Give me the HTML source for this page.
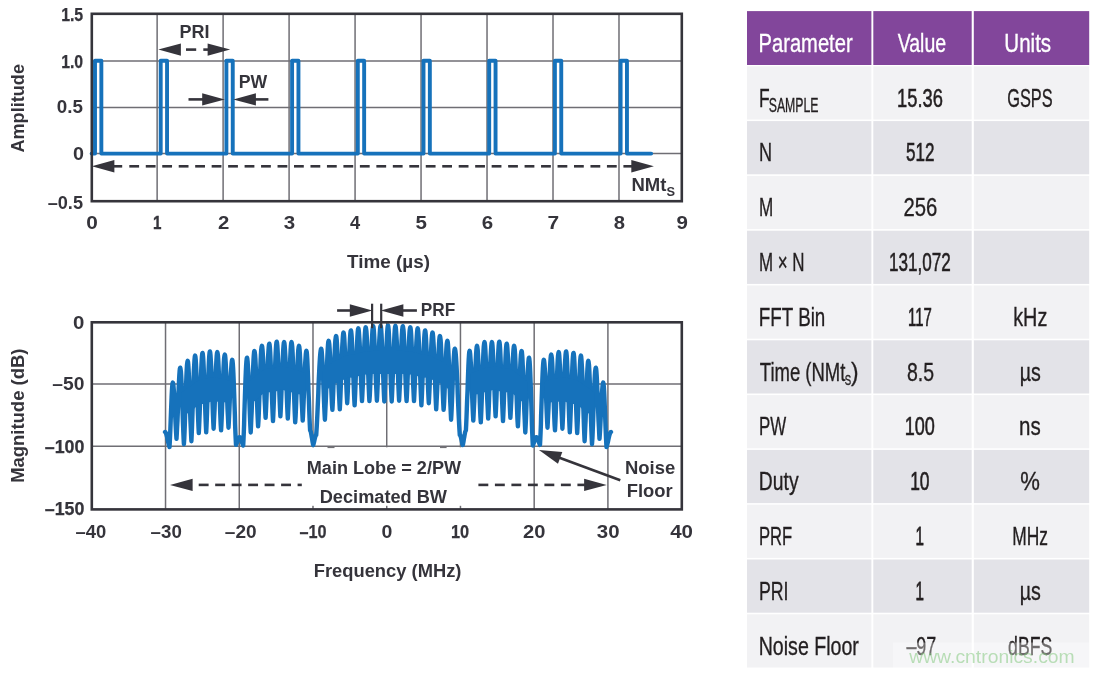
<!DOCTYPE html>
<html lang="en">
<head>
<meta charset="utf-8">
<title>Pulse train spectrum</title>
<style>
html,body{margin:0;padding:0;background:#fff;}
body{width:1093px;height:673px;overflow:hidden;}
svg{display:block;}
text{font-family:"Liberation Sans",sans-serif;}
</style>
</head>
<body>
<svg width="1093" height="673" viewBox="0 0 1093 673">
<rect x="0" y="0" width="1093" height="673" fill="#ffffff"/>
<g id="top-chart">
<line x1="157.13" y1="13.80" x2="157.13" y2="201.20" stroke="#6f6e74" stroke-width="1.5" />
<line x1="223.11" y1="13.80" x2="223.11" y2="201.20" stroke="#6f6e74" stroke-width="1.5" />
<line x1="289.09" y1="13.80" x2="289.09" y2="201.20" stroke="#6f6e74" stroke-width="1.5" />
<line x1="355.07" y1="13.80" x2="355.07" y2="201.20" stroke="#6f6e74" stroke-width="1.5" />
<line x1="421.05" y1="13.80" x2="421.05" y2="201.20" stroke="#6f6e74" stroke-width="1.5" />
<line x1="487.03" y1="13.80" x2="487.03" y2="201.20" stroke="#6f6e74" stroke-width="1.5" />
<line x1="553.01" y1="13.80" x2="553.01" y2="201.20" stroke="#6f6e74" stroke-width="1.5" />
<line x1="618.99" y1="13.80" x2="618.99" y2="201.20" stroke="#6f6e74" stroke-width="1.5" />
<line x1="91.80" y1="60.90" x2="681.80" y2="60.90" stroke="#6f6e74" stroke-width="1.5" />
<line x1="91.80" y1="107.60" x2="681.80" y2="107.60" stroke="#6f6e74" stroke-width="1.5" />
<line x1="91.80" y1="153.60" x2="681.80" y2="153.60" stroke="#6f6e74" stroke-width="1.5" />
<path d="M91.60 153.60 L95.00 153.60 L95.00 60.80 L101.35 60.80 L101.35 153.60 L160.70 153.60 L160.70 60.80 L167.05 60.80 L167.05 153.60 L226.40 153.60 L226.40 60.80 L232.75 60.80 L232.75 153.60 L292.10 153.60 L292.10 60.80 L298.45 60.80 L298.45 153.60 L357.80 153.60 L357.80 60.80 L364.15 60.80 L364.15 153.60 L423.50 153.60 L423.50 60.80 L429.85 60.80 L429.85 153.60 L489.20 153.60 L489.20 60.80 L495.55 60.80 L495.55 153.60 L554.90 153.60 L554.90 60.80 L561.25 60.80 L561.25 153.60 L620.60 153.60 L620.60 60.80 L626.95 60.80 L626.95 153.60 L651.20 153.60" fill="none" stroke="#1672bb" stroke-width="3.9" stroke-linejoin="round" stroke-linecap="round"/>
<rect x="91.80" y="13.80" width="590.00" height="187.40" fill="none" stroke="#35343b" stroke-width="2.6"/>
<polygon points="158.30,49.60 180.90,43.40 180.90,55.80" fill="#35343b"/>
<polygon points="230.20,49.60 207.60,55.80 207.60,43.40" fill="#35343b"/>
<line x1="186.00" y1="49.60" x2="196.20" y2="49.60" stroke="#35343b" stroke-width="2.6" />
<line x1="203.30" y1="49.60" x2="209.00" y2="49.60" stroke="#35343b" stroke-width="2.6" />
<line x1="188.50" y1="99.40" x2="203.00" y2="99.40" stroke="#35343b" stroke-width="2.6" />
<polygon points="224.80,99.40 202.20,105.60 202.20,93.20" fill="#35343b"/>
<polygon points="233.30,99.40 255.90,93.20 255.90,105.60" fill="#35343b"/>
<line x1="254.00" y1="99.40" x2="268.40" y2="99.40" stroke="#35343b" stroke-width="2.6" />
<polygon points="91.80,166.30 114.40,160.10 114.40,172.50" fill="#35343b"/>
<polygon points="653.90,166.30 631.30,172.50 631.30,160.10" fill="#35343b"/>
<line x1="113.00" y1="166.30" x2="122.20" y2="166.30" stroke="#35343b" stroke-width="2.6" />
<line x1="129.30" y1="166.30" x2="139.10" y2="166.30" stroke="#35343b" stroke-width="2.6" />
<line x1="145.77" y1="166.30" x2="155.57" y2="166.30" stroke="#35343b" stroke-width="2.6" />
<line x1="162.24" y1="166.30" x2="172.04" y2="166.30" stroke="#35343b" stroke-width="2.6" />
<line x1="178.71" y1="166.30" x2="188.51" y2="166.30" stroke="#35343b" stroke-width="2.6" />
<line x1="195.18" y1="166.30" x2="204.98" y2="166.30" stroke="#35343b" stroke-width="2.6" />
<line x1="211.65" y1="166.30" x2="221.45" y2="166.30" stroke="#35343b" stroke-width="2.6" />
<line x1="228.12" y1="166.30" x2="237.92" y2="166.30" stroke="#35343b" stroke-width="2.6" />
<line x1="244.59" y1="166.30" x2="254.39" y2="166.30" stroke="#35343b" stroke-width="2.6" />
<line x1="261.06" y1="166.30" x2="270.86" y2="166.30" stroke="#35343b" stroke-width="2.6" />
<line x1="277.53" y1="166.30" x2="287.33" y2="166.30" stroke="#35343b" stroke-width="2.6" />
<line x1="294.00" y1="166.30" x2="303.80" y2="166.30" stroke="#35343b" stroke-width="2.6" />
<line x1="310.47" y1="166.30" x2="320.27" y2="166.30" stroke="#35343b" stroke-width="2.6" />
<line x1="326.94" y1="166.30" x2="336.74" y2="166.30" stroke="#35343b" stroke-width="2.6" />
<line x1="343.41" y1="166.30" x2="353.21" y2="166.30" stroke="#35343b" stroke-width="2.6" />
<line x1="359.88" y1="166.30" x2="369.68" y2="166.30" stroke="#35343b" stroke-width="2.6" />
<line x1="376.35" y1="166.30" x2="386.15" y2="166.30" stroke="#35343b" stroke-width="2.6" />
<line x1="392.82" y1="166.30" x2="402.62" y2="166.30" stroke="#35343b" stroke-width="2.6" />
<line x1="409.29" y1="166.30" x2="419.09" y2="166.30" stroke="#35343b" stroke-width="2.6" />
<line x1="425.76" y1="166.30" x2="435.56" y2="166.30" stroke="#35343b" stroke-width="2.6" />
<line x1="442.23" y1="166.30" x2="452.03" y2="166.30" stroke="#35343b" stroke-width="2.6" />
<line x1="458.70" y1="166.30" x2="468.50" y2="166.30" stroke="#35343b" stroke-width="2.6" />
<line x1="475.17" y1="166.30" x2="484.97" y2="166.30" stroke="#35343b" stroke-width="2.6" />
<line x1="491.64" y1="166.30" x2="501.44" y2="166.30" stroke="#35343b" stroke-width="2.6" />
<line x1="508.11" y1="166.30" x2="517.91" y2="166.30" stroke="#35343b" stroke-width="2.6" />
<line x1="524.58" y1="166.30" x2="534.38" y2="166.30" stroke="#35343b" stroke-width="2.6" />
<line x1="541.05" y1="166.30" x2="550.85" y2="166.30" stroke="#35343b" stroke-width="2.6" />
<line x1="557.52" y1="166.30" x2="567.32" y2="166.30" stroke="#35343b" stroke-width="2.6" />
<line x1="573.99" y1="166.30" x2="583.79" y2="166.30" stroke="#35343b" stroke-width="2.6" />
<line x1="590.46" y1="166.30" x2="600.26" y2="166.30" stroke="#35343b" stroke-width="2.6" />
<line x1="606.93" y1="166.30" x2="616.73" y2="166.30" stroke="#35343b" stroke-width="2.6" />
<line x1="623.40" y1="166.30" x2="633.00" y2="166.30" stroke="#35343b" stroke-width="2.6" />
</g>
<g id="bottom-chart">
<line x1="165.53" y1="322.30" x2="165.53" y2="509.40" stroke="#6f6e74" stroke-width="1.5" />
<line x1="239.26" y1="322.30" x2="239.26" y2="509.40" stroke="#6f6e74" stroke-width="1.5" />
<line x1="312.99" y1="322.30" x2="312.99" y2="509.40" stroke="#6f6e74" stroke-width="1.5" />
<line x1="386.72" y1="322.30" x2="386.72" y2="509.40" stroke="#6f6e74" stroke-width="1.5" />
<line x1="460.45" y1="322.30" x2="460.45" y2="509.40" stroke="#6f6e74" stroke-width="1.5" />
<line x1="534.18" y1="322.30" x2="534.18" y2="509.40" stroke="#6f6e74" stroke-width="1.5" />
<line x1="607.91" y1="322.30" x2="607.91" y2="509.40" stroke="#6f6e74" stroke-width="1.5" />
<line x1="91.80" y1="384.00" x2="681.80" y2="384.00" stroke="#6f6e74" stroke-width="1.5" />
<line x1="91.80" y1="446.30" x2="681.80" y2="446.30" stroke="#6f6e74" stroke-width="1.5" />
<rect x="303" y="447.3" width="167" height="58.5" fill="#ffffff"/>
<rect x="327.5" y="447.0" width="7" height="1.1" fill="#35343b" opacity="0.7"/>
<rect x="440.0" y="447.0" width="6.6" height="1.1" fill="#35343b" opacity="0.7"/>
<path d="M165.0 432.0 L165.3 432.1 L165.6 432.5 L165.9 433.1 L166.2 433.9 L166.5 434.9 L166.8 436.0 L167.1 437.3 L167.4 438.6 L167.7 440.0 L168.0 441.4 L168.3 442.7 L168.6 444.0 L168.9 445.1 L169.2 446.1 L169.5 447.0 L169.8 441.8 L170.1 435.4 L170.4 428.1 L170.7 420.2 L171.0 412.1 L171.3 404.3 L171.6 397.1 L171.9 391.1 L172.2 386.5 L172.5 383.6 L172.8 382.6 L173.1 383.3 L173.4 385.4 L173.7 388.9 L174.1 393.4 L174.4 398.8 L174.7 404.9 L175.0 411.3 L175.3 417.7 L175.6 423.9 L175.9 429.6 L176.2 434.7 L176.5 438.8 L176.8 433.6 L177.1 427.2 L177.5 420.0 L177.8 412.1 L178.1 404.0 L178.4 395.9 L178.7 388.2 L179.0 381.4 L179.3 375.6 L179.6 371.3 L179.9 368.6 L180.2 367.7 L180.5 368.7 L180.9 371.6 L181.2 376.2 L181.5 382.4 L181.8 389.8 L182.1 398.0 L182.4 406.7 L182.7 415.5 L183.0 424.0 L183.3 431.7 L183.6 438.6 L183.9 444.2 L184.3 438.0 L184.6 430.6 L184.9 422.1 L185.2 412.9 L185.5 403.4 L185.8 393.9 L186.1 384.9 L186.4 376.8 L186.7 370.1 L187.0 365.0 L187.4 361.9 L187.7 360.8 L188.0 361.8 L188.3 364.9 L188.6 369.7 L188.9 376.2 L189.2 384.0 L189.5 392.7 L189.8 401.8 L190.1 411.1 L190.4 419.9 L190.8 428.1 L191.1 435.3 L191.4 441.2 L191.7 434.9 L192.0 427.3 L192.3 418.6 L192.6 409.1 L192.9 399.3 L193.2 389.5 L193.5 380.3 L193.8 372.0 L194.2 365.1 L194.5 359.9 L194.8 356.7 L195.1 355.6 L195.4 356.6 L195.7 359.5 L196.0 364.2 L196.3 370.5 L196.6 378.0 L196.9 386.3 L197.2 395.2 L197.6 404.0 L197.9 412.6 L198.2 420.5 L198.5 427.4 L198.8 433.1 L199.1 427.2 L199.4 420.0 L199.7 411.9 L200.0 403.0 L200.3 393.8 L200.6 384.7 L201.0 376.0 L201.3 368.3 L201.6 361.8 L201.9 357.0 L202.2 353.9 L202.5 352.9 L202.8 353.9 L203.1 356.9 L203.4 361.7 L203.7 368.1 L204.0 375.8 L204.4 384.4 L204.7 393.4 L205.0 402.5 L205.3 411.3 L205.6 419.4 L205.9 426.4 L206.2 432.3 L206.5 426.3 L206.8 419.1 L207.1 410.9 L207.4 402.0 L207.8 392.7 L208.1 383.5 L208.4 374.7 L208.7 366.9 L209.0 360.4 L209.3 355.5 L209.6 352.4 L209.9 351.4 L210.2 352.4 L210.5 355.3 L210.8 360.0 L211.2 366.2 L211.5 373.7 L211.8 382.0 L212.1 390.8 L212.4 399.7 L212.7 408.2 L213.0 416.1 L213.3 423.0 L213.6 428.7 L213.9 423.0 L214.2 416.2 L214.6 408.4 L214.9 400.0 L215.2 391.2 L215.5 382.5 L215.8 374.2 L216.1 366.8 L216.4 360.6 L216.7 356.0 L217.0 353.1 L217.3 352.1 L217.6 353.1 L218.0 356.1 L218.3 360.8 L218.6 367.1 L218.9 374.7 L219.2 383.1 L219.5 392.1 L219.8 401.0 L220.1 409.7 L220.4 417.6 L220.7 424.6 L221.1 430.4 L221.4 424.8 L221.7 418.1 L222.0 410.3 L222.3 402.0 L222.6 393.3 L222.9 384.7 L223.2 376.5 L223.5 369.2 L223.8 363.0 L224.1 358.4 L224.5 355.6 L224.8 354.6 L225.1 355.5 L225.4 358.3 L225.7 362.7 L226.0 368.6 L226.3 375.7 L226.6 383.6 L226.9 391.9 L227.2 400.3 L227.5 408.4 L227.9 415.8 L228.2 422.3 L228.5 427.7 L228.8 422.7 L229.1 416.6 L229.4 409.7 L229.7 402.2 L230.0 394.5 L230.3 386.7 L230.6 379.4 L230.9 372.8 L231.3 367.4 L231.6 363.2 L231.9 360.7 L232.2 359.8 L232.5 360.7 L232.8 363.5 L233.1 367.9 L233.4 373.9 L233.7 381.1 L234.0 389.2 L234.3 398.0 L234.6 407.0 L234.9 415.9 L235.1 424.5 L235.4 432.3 L235.7 439.2 L236.0 444.9 L236.3 444.3 L236.6 443.6 L236.9 442.9 L237.2 442.0 L237.5 441.1 L237.8 440.3 L238.1 439.4 L238.4 438.7 L238.7 438.1 L239.0 437.6 L239.3 437.3 L239.6 437.2 L239.9 437.3 L240.2 437.6 L240.5 438.1 L240.8 438.8 L241.1 439.6 L241.4 440.5 L241.7 441.4 L242.0 442.4 L242.3 443.3 L242.6 444.1 L242.9 444.9 L243.2 445.5 L243.5 439.6 L243.8 432.5 L244.1 424.4 L244.3 415.6 L244.6 406.4 L244.9 397.1 L245.2 388.0 L245.5 379.6 L245.8 372.2 L246.1 366.1 L246.4 361.5 L246.7 358.7 L247.0 357.7 L247.3 358.7 L247.6 361.5 L247.9 366.0 L248.3 372.1 L248.6 379.3 L248.9 387.4 L249.2 395.9 L249.5 404.4 L249.8 412.7 L250.1 420.3 L250.4 427.0 L250.7 432.5 L251.0 426.5 L251.3 419.2 L251.7 410.9 L252.0 401.9 L252.3 392.6 L252.6 383.3 L252.9 374.5 L253.2 366.6 L253.5 360.1 L253.8 355.1 L254.1 352.0 L254.4 351.0 L254.7 352.0 L255.1 354.8 L255.4 359.4 L255.7 365.5 L256.0 372.7 L256.3 380.9 L256.6 389.4 L256.9 398.1 L257.2 406.4 L257.5 414.0 L257.8 420.7 L258.1 426.3 L258.5 420.4 L258.8 413.2 L259.1 405.0 L259.4 396.1 L259.7 386.9 L260.0 377.7 L260.3 369.0 L260.6 361.3 L260.9 354.8 L261.2 349.9 L261.6 346.8 L261.9 345.8 L262.2 346.7 L262.5 349.4 L262.8 353.8 L263.1 359.6 L263.4 366.6 L263.7 374.4 L264.0 382.6 L264.3 390.9 L264.6 398.8 L265.0 406.2 L265.3 412.6 L265.6 417.9 L265.9 412.4 L266.2 405.8 L266.5 398.3 L266.8 390.1 L267.1 381.6 L267.4 373.1 L267.7 365.1 L268.0 357.9 L268.4 352.0 L268.7 347.4 L269.0 344.6 L269.3 343.7 L269.6 344.7 L269.9 347.6 L270.2 352.3 L270.5 358.6 L270.8 366.0 L271.1 374.4 L271.4 383.2 L271.8 392.1 L272.1 400.6 L272.4 408.5 L272.7 415.4 L273.0 421.1 L273.3 415.2 L273.6 408.2 L273.9 400.1 L274.2 391.3 L274.5 382.2 L274.8 373.2 L275.2 364.6 L275.5 356.9 L275.8 350.5 L276.1 345.7 L276.4 342.7 L276.7 341.7 L277.0 342.7 L277.3 345.5 L277.6 350.0 L277.9 356.0 L278.2 363.2 L278.6 371.3 L278.9 379.8 L279.2 388.3 L279.5 396.6 L279.8 404.1 L280.1 410.8 L280.4 416.3 L280.7 410.8 L281.0 404.2 L281.3 396.7 L281.6 388.5 L282.0 380.0 L282.3 371.5 L282.6 363.5 L282.9 356.3 L283.2 350.4 L283.5 345.8 L283.8 343.0 L284.1 342.1 L284.4 343.1 L284.7 346.0 L285.0 350.6 L285.4 356.8 L285.7 364.2 L286.0 372.4 L286.3 381.1 L286.6 389.9 L286.9 398.4 L287.2 406.1 L287.5 413.0 L287.8 418.6 L288.1 413.0 L288.4 406.1 L288.8 398.4 L289.1 389.9 L289.4 381.1 L289.7 372.4 L290.0 364.2 L290.3 356.8 L290.6 350.6 L290.9 346.0 L291.2 343.1 L291.5 342.1 L291.8 343.1 L292.2 346.2 L292.5 351.0 L292.8 357.5 L293.1 365.3 L293.4 373.9 L293.7 383.1 L294.0 392.3 L294.3 401.2 L294.6 409.3 L294.9 416.5 L295.2 422.4 L295.6 416.7 L295.9 409.9 L296.2 402.1 L296.5 393.7 L296.8 384.9 L297.1 376.2 L297.4 367.9 L297.7 360.5 L298.0 354.3 L298.3 349.7 L298.7 346.8 L299.0 345.8 L299.3 346.8 L299.6 349.6 L299.9 354.1 L300.2 360.2 L300.5 367.4 L300.8 375.5 L301.1 384.0 L301.4 392.5 L301.7 400.8 L302.1 408.4 L302.4 415.1 L302.7 420.6 L303.0 415.5 L303.3 409.2 L303.6 402.1 L303.9 394.4 L304.2 386.4 L304.5 378.5 L304.8 370.9 L305.1 364.2 L305.5 358.6 L305.8 354.3 L306.1 351.7 L306.4 350.8 L306.7 351.8 L307.0 354.8 L307.3 359.7 L307.6 366.1 L307.9 373.8 L308.2 382.4 L308.5 391.5 L308.9 400.6 L309.2 409.4 L309.5 417.5 L309.8 424.6 L310.1 430.5 L310.4 430.8 L310.7 431.5 L311.0 432.8 L311.3 434.4 L311.6 436.2 L312.0 438.2 L312.3 440.2 L312.6 442.1 L312.9 443.7 L313.2 445.0 L313.5 444.1 L313.8 443.0 L314.1 441.7 L314.4 440.3 L314.7 439.0 L315.0 437.7 L315.3 436.6 L315.6 435.7 L315.9 435.2 L316.2 435.0 L316.5 430.7 L316.8 425.6 L317.1 420.0 L317.4 413.8 L317.7 407.2 L318.0 400.3 L318.3 393.3 L318.5 386.3 L318.8 379.5 L319.1 373.1 L319.4 367.1 L319.7 361.8 L320.0 357.2 L320.3 353.6 L320.6 350.9 L320.9 349.3 L321.2 348.7 L321.5 349.6 L321.8 352.3 L322.1 356.6 L322.5 362.3 L322.8 369.2 L323.1 376.8 L323.4 384.9 L323.7 393.1 L324.0 400.9 L324.3 408.1 L324.6 414.5 L324.9 419.7 L325.2 413.9 L325.5 406.8 L325.9 398.8 L326.2 390.1 L326.5 381.1 L326.8 372.1 L327.1 363.6 L327.4 355.9 L327.7 349.6 L328.0 344.8 L328.3 341.8 L328.6 340.8 L328.9 341.7 L329.3 344.3 L329.6 348.5 L329.9 354.1 L330.2 360.7 L330.5 368.2 L330.8 376.1 L331.1 384.0 L331.4 391.6 L331.7 398.6 L332.0 404.8 L332.4 409.9 L332.7 404.4 L333.0 397.9 L333.3 390.3 L333.6 382.2 L333.9 373.7 L334.2 365.3 L334.5 357.3 L334.8 350.2 L335.1 344.2 L335.4 339.7 L335.8 336.9 L336.1 336.0 L336.4 336.9 L336.7 339.7 L337.0 344.2 L337.3 350.1 L337.6 357.2 L337.9 365.1 L338.2 373.5 L338.5 381.9 L338.8 390.0 L339.2 397.4 L339.5 404.0 L339.8 409.4 L340.1 403.7 L340.4 396.9 L340.7 389.1 L341.0 380.6 L341.3 371.7 L341.6 363.0 L341.9 354.7 L342.2 347.3 L342.6 341.1 L342.9 336.4 L343.2 333.5 L343.5 332.5 L343.8 333.4 L344.1 336.1 L344.4 340.4 L344.7 346.1 L345.0 352.9 L345.3 360.5 L345.6 368.6 L346.0 376.7 L346.3 384.5 L346.6 391.7 L346.9 398.0 L347.2 403.2 L347.5 397.8 L347.8 391.3 L348.1 383.9 L348.4 375.9 L348.7 367.6 L349.0 359.3 L349.4 351.4 L349.7 344.4 L350.0 338.5 L350.3 334.1 L350.6 331.3 L350.9 330.4 L351.2 331.4 L351.5 334.2 L351.8 338.7 L352.1 344.8 L352.4 352.0 L352.8 360.1 L353.1 368.6 L353.4 377.2 L353.7 385.5 L354.0 393.1 L354.3 399.8 L354.6 405.3 L354.9 399.6 L355.2 392.8 L355.5 384.9 L355.8 376.4 L356.2 367.6 L356.5 358.8 L356.8 350.5 L357.1 343.1 L357.4 336.9 L357.7 332.2 L358.0 329.3 L358.3 328.3 L358.6 329.2 L358.9 332.0 L359.2 336.4 L359.6 342.3 L359.9 349.3 L360.2 357.2 L360.5 365.5 L360.8 373.8 L361.1 381.8 L361.4 389.2 L361.7 395.7 L362.0 401.1 L362.3 395.7 L362.6 389.1 L363.0 381.6 L363.3 373.4 L363.6 365.0 L363.9 356.6 L364.2 348.6 L364.5 341.5 L364.8 335.5 L365.1 331.0 L365.4 328.2 L365.7 327.3 L366.0 328.2 L366.4 331.0 L366.7 335.5 L367.0 341.5 L367.3 348.6 L367.6 356.6 L367.9 365.0 L368.2 373.4 L368.5 381.6 L368.8 389.1 L369.1 395.7 L369.4 401.1 L369.8 395.6 L370.1 388.9 L370.4 381.3 L370.7 373.0 L371.0 364.4 L371.3 355.9 L371.6 347.8 L371.9 340.6 L372.2 334.5 L372.5 330.0 L372.9 327.2 L373.2 326.2 L373.5 327.2 L373.8 330.0 L374.1 334.5 L374.4 340.5 L374.7 347.7 L375.0 355.7 L375.3 364.2 L375.6 372.8 L375.9 381.0 L376.3 388.6 L376.6 395.2 L376.9 400.7 L377.2 395.2 L377.5 388.5 L377.8 380.9 L378.1 372.6 L378.4 364.0 L378.7 355.5 L379.0 347.4 L379.3 340.2 L379.7 334.1 L380.0 329.6 L380.3 326.8 L380.6 325.8 L380.9 326.8 L381.2 329.6 L381.5 334.2 L381.8 340.3 L382.1 347.6 L382.4 355.8 L382.7 364.4 L383.1 373.1 L383.4 381.5 L383.7 389.2 L384.0 395.9 L384.3 401.5 L384.6 395.9 L384.9 389.1 L385.2 381.4 L385.5 373.0 L385.8 364.2 L386.1 355.6 L386.5 347.4 L386.8 340.0 L387.1 333.9 L387.4 329.2 L387.7 326.4 L388.0 325.4 L388.3 326.4 L388.6 329.2 L388.9 333.9 L389.2 340.0 L389.5 347.4 L389.9 355.6 L390.2 364.2 L390.5 373.0 L390.8 381.4 L391.1 389.1 L391.4 395.9 L391.7 401.5 L392.0 395.9 L392.3 389.2 L392.6 381.5 L392.9 373.1 L393.3 364.4 L393.6 355.8 L393.9 347.6 L394.2 340.3 L394.5 334.2 L394.8 329.6 L395.1 326.8 L395.4 325.8 L395.7 326.8 L396.0 329.6 L396.3 334.1 L396.7 340.2 L397.0 347.4 L397.3 355.5 L397.6 364.0 L397.9 372.6 L398.2 380.9 L398.5 388.5 L398.8 395.2 L399.1 400.7 L399.4 395.2 L399.7 388.6 L400.1 381.0 L400.4 372.8 L400.7 364.2 L401.0 355.7 L401.3 347.7 L401.6 340.5 L401.9 334.5 L402.2 330.0 L402.5 327.2 L402.8 326.2 L403.1 327.2 L403.5 330.0 L403.8 334.5 L404.1 340.6 L404.4 347.8 L404.7 355.9 L405.0 364.4 L405.3 373.0 L405.6 381.3 L405.9 388.9 L406.2 395.6 L406.6 401.1 L406.9 395.7 L407.2 389.1 L407.5 381.6 L407.8 373.4 L408.1 365.0 L408.4 356.6 L408.7 348.6 L409.0 341.5 L409.3 335.5 L409.6 331.0 L410.0 328.2 L410.3 327.3 L410.6 328.2 L410.9 331.0 L411.2 335.5 L411.5 341.5 L411.8 348.6 L412.1 356.6 L412.4 365.0 L412.7 373.4 L413.0 381.6 L413.4 389.1 L413.7 395.7 L414.0 401.1 L414.3 395.7 L414.6 389.2 L414.9 381.8 L415.2 373.8 L415.5 365.5 L415.8 357.2 L416.1 349.3 L416.4 342.3 L416.8 336.4 L417.1 332.0 L417.4 329.2 L417.7 328.3 L418.0 329.3 L418.3 332.2 L418.6 336.9 L418.9 343.1 L419.2 350.5 L419.5 358.8 L419.8 367.6 L420.2 376.4 L420.5 384.9 L420.8 392.8 L421.1 399.6 L421.4 405.3 L421.7 399.8 L422.0 393.1 L422.3 385.5 L422.6 377.2 L422.9 368.6 L423.2 360.1 L423.6 352.0 L423.9 344.8 L424.2 338.7 L424.5 334.2 L424.8 331.4 L425.1 330.4 L425.4 331.3 L425.7 334.1 L426.0 338.5 L426.3 344.4 L426.6 351.4 L427.0 359.3 L427.3 367.6 L427.6 375.9 L427.9 383.9 L428.2 391.3 L428.5 397.8 L428.8 403.2 L429.1 398.0 L429.4 391.7 L429.7 384.5 L430.0 376.7 L430.4 368.6 L430.7 360.5 L431.0 352.9 L431.3 346.1 L431.6 340.4 L431.9 336.1 L432.2 333.4 L432.5 332.5 L432.8 333.5 L433.1 336.4 L433.4 341.1 L433.8 347.3 L434.1 354.7 L434.4 363.0 L434.7 371.7 L435.0 380.6 L435.3 389.1 L435.6 396.9 L435.9 403.7 L436.2 409.4 L436.5 404.0 L436.8 397.4 L437.2 390.0 L437.5 381.9 L437.8 373.5 L438.1 365.1 L438.4 357.2 L438.7 350.1 L439.0 344.2 L439.3 339.7 L439.6 336.9 L439.9 336.0 L440.2 336.9 L440.6 339.7 L440.9 344.2 L441.2 350.2 L441.5 357.3 L441.8 365.3 L442.1 373.7 L442.4 382.2 L442.7 390.3 L443.0 397.9 L443.3 404.4 L443.6 409.9 L444.0 404.8 L444.3 398.6 L444.6 391.6 L444.9 384.0 L445.2 376.1 L445.5 368.2 L445.8 360.7 L446.1 354.1 L446.4 348.5 L446.7 344.3 L447.1 341.7 L447.4 340.8 L447.7 341.8 L448.0 344.8 L448.3 349.6 L448.6 355.9 L448.9 363.6 L449.2 372.1 L449.5 381.1 L449.8 390.1 L450.1 398.8 L450.5 406.8 L450.8 413.9 L451.1 419.7 L451.4 414.5 L451.7 408.1 L452.0 400.9 L452.3 393.1 L452.6 384.9 L452.9 376.8 L453.2 369.2 L453.5 362.3 L453.9 356.6 L454.2 352.3 L454.5 349.6 L454.8 348.7 L455.1 349.3 L455.4 350.9 L455.7 353.6 L456.0 357.2 L456.3 361.8 L456.6 367.1 L456.9 373.1 L457.2 379.5 L457.5 386.3 L457.7 393.3 L458.0 400.3 L458.3 407.2 L458.6 413.8 L458.9 420.0 L459.2 425.6 L459.5 430.7 L459.8 435.0 L460.1 435.2 L460.4 435.7 L460.7 436.6 L461.0 437.7 L461.3 439.0 L461.6 440.3 L461.9 441.7 L462.2 443.0 L462.5 444.1 L462.8 445.0 L463.1 443.7 L463.4 442.1 L463.7 440.2 L464.0 438.2 L464.4 436.2 L464.7 434.4 L465.0 432.8 L465.3 431.5 L465.6 430.8 L465.9 430.5 L466.2 424.6 L466.5 417.5 L466.8 409.4 L467.1 400.6 L467.5 391.5 L467.8 382.4 L468.1 373.8 L468.4 366.1 L468.7 359.7 L469.0 354.8 L469.3 351.8 L469.6 350.8 L469.9 351.7 L470.2 354.3 L470.5 358.6 L470.9 364.2 L471.2 370.9 L471.5 378.5 L471.8 386.4 L472.1 394.4 L472.4 402.1 L472.7 409.2 L473.0 415.5 L473.3 420.6 L473.6 415.1 L473.9 408.4 L474.3 400.8 L474.6 392.6 L474.9 384.0 L475.2 375.5 L475.5 367.4 L475.8 360.2 L476.1 354.1 L476.4 349.6 L476.7 346.8 L477.0 345.8 L477.3 346.8 L477.7 349.7 L478.0 354.3 L478.3 360.5 L478.6 367.9 L478.9 376.2 L479.2 384.9 L479.5 393.7 L479.8 402.1 L480.1 409.9 L480.4 416.7 L480.8 422.4 L481.1 416.5 L481.4 409.3 L481.7 401.2 L482.0 392.3 L482.3 383.1 L482.6 373.9 L482.9 365.3 L483.2 357.5 L483.5 351.0 L483.8 346.2 L484.2 343.1 L484.5 342.1 L484.8 343.1 L485.1 346.0 L485.4 350.6 L485.7 356.8 L486.0 364.2 L486.3 372.4 L486.6 381.1 L486.9 389.9 L487.2 398.4 L487.6 406.1 L487.9 413.0 L488.2 418.6 L488.5 413.0 L488.8 406.1 L489.1 398.4 L489.4 389.9 L489.7 381.1 L490.0 372.4 L490.3 364.2 L490.6 356.8 L491.0 350.6 L491.3 346.0 L491.6 343.1 L491.9 342.1 L492.2 343.0 L492.5 345.8 L492.8 350.4 L493.1 356.3 L493.4 363.5 L493.7 371.5 L494.0 380.0 L494.4 388.5 L494.7 396.7 L495.0 404.2 L495.3 410.8 L495.6 416.3 L495.9 410.8 L496.2 404.1 L496.5 396.6 L496.8 388.3 L497.1 379.8 L497.4 371.3 L497.8 363.2 L498.1 356.0 L498.4 350.0 L498.7 345.5 L499.0 342.7 L499.3 341.7 L499.6 342.7 L499.9 345.7 L500.2 350.5 L500.5 356.9 L500.8 364.6 L501.2 373.2 L501.5 382.2 L501.8 391.3 L502.1 400.1 L502.4 408.2 L502.7 415.2 L503.0 421.1 L503.3 415.4 L503.6 408.5 L503.9 400.6 L504.2 392.1 L504.6 383.2 L504.9 374.4 L505.2 366.0 L505.5 358.6 L505.8 352.3 L506.1 347.6 L506.4 344.7 L506.7 343.7 L507.0 344.6 L507.3 347.4 L507.6 352.0 L508.0 357.9 L508.3 365.1 L508.6 373.1 L508.9 381.6 L509.2 390.1 L509.5 398.3 L509.8 405.8 L510.1 412.4 L510.4 417.9 L510.7 412.6 L511.0 406.2 L511.4 398.8 L511.7 390.9 L512.0 382.6 L512.3 374.4 L512.6 366.6 L512.9 359.6 L513.2 353.8 L513.5 349.4 L513.8 346.7 L514.1 345.8 L514.4 346.8 L514.8 349.9 L515.1 354.8 L515.4 361.3 L515.7 369.0 L516.0 377.7 L516.3 386.9 L516.6 396.1 L516.9 405.0 L517.2 413.2 L517.5 420.4 L517.9 426.3 L518.2 420.7 L518.5 414.0 L518.8 406.4 L519.1 398.1 L519.4 389.4 L519.7 380.9 L520.0 372.7 L520.3 365.5 L520.6 359.4 L520.9 354.8 L521.3 352.0 L521.6 351.0 L521.9 352.0 L522.2 355.1 L522.5 360.1 L522.8 366.6 L523.1 374.5 L523.4 383.3 L523.7 392.6 L524.0 401.9 L524.3 410.9 L524.7 419.2 L525.0 426.5 L525.3 432.5 L525.6 427.0 L525.9 420.3 L526.2 412.7 L526.5 404.5 L526.8 395.9 L527.1 387.4 L527.4 379.3 L527.7 372.1 L528.1 366.0 L528.4 361.5 L528.7 358.7 L529.0 357.7 L529.3 358.7 L529.6 361.5 L529.9 366.1 L530.2 372.2 L530.5 379.6 L530.8 388.0 L531.1 397.1 L531.4 406.4 L531.7 415.6 L531.9 424.4 L532.2 432.5 L532.5 439.6 L532.8 445.5 L533.1 444.9 L533.4 444.1 L533.7 443.3 L534.0 442.4 L534.3 441.4 L534.6 440.5 L534.9 439.6 L535.2 438.8 L535.5 438.1 L535.8 437.6 L536.1 437.3 L536.4 437.2 L536.7 437.3 L537.0 437.6 L537.3 438.1 L537.6 438.7 L537.9 439.4 L538.2 440.3 L538.5 441.1 L538.8 442.0 L539.1 442.9 L539.4 443.6 L539.7 444.3 L540.0 444.9 L540.3 439.2 L540.6 432.3 L540.9 424.5 L541.1 415.9 L541.4 407.0 L541.7 398.0 L542.0 389.2 L542.3 381.1 L542.6 373.9 L542.9 367.9 L543.2 363.5 L543.5 360.7 L543.8 359.8 L544.1 360.7 L544.4 363.2 L544.7 367.4 L545.1 372.8 L545.4 379.4 L545.7 386.7 L546.0 394.5 L546.3 402.2 L546.6 409.7 L546.9 416.6 L547.2 422.7 L547.5 427.7 L547.8 422.3 L548.1 415.8 L548.5 408.4 L548.8 400.3 L549.1 391.9 L549.4 383.6 L549.7 375.7 L550.0 368.6 L550.3 362.7 L550.6 358.3 L550.9 355.5 L551.2 354.6 L551.5 355.6 L551.9 358.4 L552.2 363.0 L552.5 369.2 L552.8 376.5 L553.1 384.7 L553.4 393.3 L553.7 402.0 L554.0 410.3 L554.3 418.1 L554.6 424.8 L555.0 430.4 L555.3 424.6 L555.6 417.6 L555.9 409.7 L556.2 401.0 L556.5 392.1 L556.8 383.1 L557.1 374.7 L557.4 367.1 L557.7 360.8 L558.0 356.1 L558.4 353.1 L558.7 352.1 L559.0 353.1 L559.3 356.0 L559.6 360.6 L559.9 366.8 L560.2 374.2 L560.5 382.5 L560.8 391.2 L561.1 400.0 L561.4 408.4 L561.8 416.2 L562.1 423.0 L562.4 428.7 L562.7 423.0 L563.0 416.1 L563.3 408.2 L563.6 399.7 L563.9 390.8 L564.2 382.0 L564.5 373.7 L564.8 366.2 L565.2 360.0 L565.5 355.3 L565.8 352.4 L566.1 351.4 L566.4 352.4 L566.7 355.5 L567.0 360.4 L567.3 366.9 L567.6 374.7 L567.9 383.5 L568.2 392.7 L568.6 402.0 L568.9 410.9 L569.2 419.1 L569.5 426.3 L569.8 432.3 L570.1 426.4 L570.4 419.4 L570.7 411.3 L571.0 402.5 L571.3 393.4 L571.6 384.4 L572.0 375.8 L572.3 368.1 L572.6 361.7 L572.9 356.9 L573.2 353.9 L573.5 352.9 L573.8 353.9 L574.1 357.0 L574.4 361.8 L574.7 368.3 L575.0 376.0 L575.4 384.7 L575.7 393.8 L576.0 403.0 L576.3 411.9 L576.6 420.0 L576.9 427.2 L577.2 433.1 L577.5 427.4 L577.8 420.5 L578.1 412.6 L578.4 404.0 L578.8 395.2 L579.1 386.3 L579.4 378.0 L579.7 370.5 L580.0 364.2 L580.3 359.5 L580.6 356.6 L580.9 355.6 L581.2 356.7 L581.5 359.9 L581.8 365.1 L582.2 372.0 L582.5 380.3 L582.8 389.5 L583.1 399.3 L583.4 409.1 L583.7 418.6 L584.0 427.3 L584.3 434.9 L584.6 441.2 L584.9 435.3 L585.2 428.1 L585.6 419.9 L585.9 411.1 L586.2 401.8 L586.5 392.7 L586.8 384.0 L587.1 376.2 L587.4 369.7 L587.7 364.9 L588.0 361.8 L588.3 360.8 L588.6 361.9 L589.0 365.0 L589.3 370.1 L589.6 376.8 L589.9 384.9 L590.2 393.9 L590.5 403.4 L590.8 412.9 L591.1 422.1 L591.4 430.6 L591.7 438.0 L592.0 444.2 L592.4 438.6 L592.7 431.7 L593.0 424.0 L593.3 415.5 L593.6 406.7 L593.9 398.0 L594.2 389.8 L594.5 382.4 L594.8 376.2 L595.1 371.6 L595.5 368.7 L595.8 367.7 L596.1 368.6 L596.4 371.3 L596.7 375.6 L597.0 381.4 L597.3 388.2 L597.6 395.9 L597.9 404.0 L598.2 412.1 L598.5 420.0 L598.9 427.2 L599.2 433.6 L599.5 438.8 L599.8 434.7 L600.1 429.6 L600.4 423.9 L600.7 417.7 L601.0 411.3 L601.3 404.9 L601.6 398.8 L601.9 393.4 L602.3 388.9 L602.6 385.4 L602.9 383.3 L603.2 382.6 L603.5 383.6 L603.8 386.5 L604.1 391.1 L604.4 397.1 L604.7 404.3 L605.0 412.1 L605.3 420.2 L605.6 428.1 L605.9 435.4 L606.2 441.8 L606.5 447.0 L606.8 446.1 L607.1 445.1 L607.4 444.0 L607.7 442.7 L608.0 441.4 L608.3 440.0 L608.6 438.6 L608.9 437.3 L609.2 436.0 L609.5 434.9 L609.8 433.9 L610.1 433.1 L610.4 432.5 L610.7 432.1 L611.0 432.0" fill="none" stroke="#1672bb" stroke-width="4.4" stroke-linejoin="round" stroke-linecap="round"/>
<polygon points="181.4,392.3 182.6,391.5 183.9,390.7 185.2,389.7 186.5,388.7 187.7,387.8 189.0,387.0 190.3,386.2 191.6,385.4 192.8,384.4 194.1,383.3 195.4,382.3 196.6,381.6 197.9,380.8 199.2,380.2 200.5,379.8 201.7,379.4 203.0,379.1 204.3,378.9 205.6,378.7 206.8,378.4 208.1,378.0 209.4,377.7 210.7,377.4 211.9,377.3 213.2,377.2 214.5,377.3 215.8,377.4 217.0,377.6 218.3,378.0 219.6,378.3 220.9,378.7 222.1,378.9 223.4,379.0 224.7,379.2 226.0,379.6 227.2,380.0 228.5,380.5 229.8,381.1 231.1,381.7 231.1,403.0 229.8,402.7 228.5,402.3 227.2,402.3 226.0,402.3 224.7,402.3 223.4,402.4 222.1,402.5 220.9,402.6 219.6,402.3 218.3,401.9 217.0,401.6 215.8,401.4 214.5,401.2 213.2,401.1 211.9,401.5 210.7,401.8 209.4,402.2 208.1,402.7 206.8,403.2 205.6,403.5 204.3,403.7 203.0,403.9 201.7,404.1 200.5,404.4 199.2,404.6 197.9,405.4 196.6,406.5 195.4,407.5 194.1,408.7 192.8,409.9 191.6,411.1 190.3,411.9 189.0,412.5 187.7,413.2 186.5,413.9 185.2,414.7 183.9,415.4 182.6,415.9 181.4,416.3" fill="#1672bb"/>
<polygon points="248.1,381.7 249.6,380.8 251.1,379.8 252.5,378.6 254.0,377.3 255.5,376.1 256.9,375.0 258.4,373.9 259.9,372.7 261.3,371.4 262.8,370.5 264.2,369.6 265.7,368.9 267.2,368.8 268.6,368.7 270.1,368.7 271.6,368.6 273.0,368.6 274.5,368.0 276.0,367.4 277.4,367.0 278.9,366.7 280.4,366.5 281.8,366.6 283.3,366.9 284.8,367.0 286.2,367.2 287.7,367.3 289.2,367.6 290.6,367.8 292.1,368.2 293.5,369.0 295.0,369.7 296.5,370.2 297.9,370.5 299.4,370.9 300.9,371.5 302.3,372.0 303.8,372.7 305.3,373.3 305.3,395.2 303.8,394.8 302.3,394.5 300.9,394.4 299.4,394.3 297.9,394.2 296.5,394.2 295.0,394.0 293.5,393.3 292.1,392.6 290.6,392.0 289.2,391.5 287.7,391.0 286.2,390.7 284.8,390.5 283.3,390.1 281.8,389.8 280.4,389.5 278.9,390.1 277.4,390.7 276.0,391.4 274.5,392.1 273.0,392.9 271.6,392.6 270.1,392.4 268.6,392.1 267.2,391.8 265.7,391.6 264.2,392.7 262.8,393.9 261.3,395.2 259.9,396.6 258.4,398.0 256.9,399.2 255.5,400.4 254.0,401.6 252.5,402.8 251.1,404.1 249.6,404.7 248.1,405.2" fill="#1672bb"/>
<polygon points="322.3,371.3 325.7,368.6 329.1,364.8 332.4,362.0 335.8,360.4 339.2,359.3 342.5,357.4 345.9,355.7 349.3,354.9 352.6,354.6 356.0,353.9 359.4,352.7 362.7,351.9 366.1,351.6 369.5,351.3 372.8,350.9 376.2,350.7 379.6,350.6 382.9,350.6 386.3,350.6 389.7,350.6 393.1,350.6 396.4,350.6 399.8,350.7 403.2,350.9 406.5,351.3 409.9,351.6 413.3,351.9 416.6,352.7 420.0,353.9 423.4,354.6 426.7,354.9 430.1,355.7 433.5,357.4 436.8,359.3 440.2,360.4 443.6,362.0 446.9,364.8 450.3,368.6 453.7,371.3 453.7,393.7 450.3,391.8 446.9,387.7 443.6,384.1 440.2,383.2 436.8,382.5 433.5,380.4 430.1,378.2 426.7,377.5 423.4,377.8 420.0,377.3 416.6,375.8 413.3,374.7 409.9,374.5 406.5,374.3 403.2,374.0 399.8,373.8 396.4,373.9 393.1,374.1 389.7,374.1 386.3,374.1 382.9,374.1 379.6,373.9 376.2,373.8 372.8,374.0 369.5,374.3 366.1,374.5 362.7,374.7 359.4,375.8 356.0,377.3 352.6,377.8 349.3,377.5 345.9,378.2 342.5,380.4 339.2,382.5 335.8,383.2 332.4,384.1 329.1,387.7 325.7,391.8 322.3,393.7" fill="#1672bb"/>
<polygon points="470.7,373.3 472.2,372.7 473.7,372.0 475.1,371.5 476.6,370.9 478.1,370.5 479.5,370.2 481.0,369.7 482.5,369.0 483.9,368.2 485.4,367.8 486.8,367.6 488.3,367.3 489.8,367.2 491.2,367.0 492.7,366.9 494.2,366.6 495.6,366.5 497.1,366.7 498.6,367.0 500.0,367.4 501.5,368.0 503.0,368.6 504.4,368.6 505.9,368.7 507.4,368.7 508.8,368.8 510.3,368.9 511.8,369.6 513.2,370.5 514.7,371.4 516.1,372.7 517.6,373.9 519.1,375.0 520.5,376.1 522.0,377.3 523.5,378.6 524.9,379.8 526.4,380.8 527.9,381.7 527.9,405.2 526.4,404.7 524.9,404.1 523.5,402.8 522.0,401.6 520.5,400.4 519.1,399.2 517.6,398.0 516.1,396.6 514.7,395.2 513.2,393.9 511.8,392.7 510.3,391.6 508.8,391.8 507.4,392.1 505.9,392.4 504.4,392.6 503.0,392.9 501.5,392.1 500.0,391.4 498.6,390.7 497.1,390.1 495.6,389.5 494.2,389.8 492.7,390.1 491.2,390.5 489.8,390.7 488.3,391.0 486.8,391.5 485.4,392.0 483.9,392.6 482.5,393.3 481.0,394.0 479.5,394.2 478.1,394.2 476.6,394.3 475.1,394.4 473.7,394.5 472.2,394.8 470.7,395.2" fill="#1672bb"/>
<polygon points="544.9,381.7 546.2,381.1 547.5,380.5 548.8,380.0 550.0,379.6 551.3,379.2 552.6,379.0 553.9,378.9 555.1,378.7 556.4,378.3 557.7,378.0 559.0,377.6 560.2,377.4 561.5,377.3 562.8,377.2 564.1,377.3 565.3,377.4 566.6,377.7 567.9,378.0 569.2,378.4 570.4,378.7 571.7,378.9 573.0,379.1 574.3,379.4 575.5,379.8 576.8,380.2 578.1,380.8 579.4,381.6 580.6,382.3 581.9,383.3 583.2,384.4 584.4,385.4 585.7,386.2 587.0,387.0 588.3,387.8 589.5,388.7 590.8,389.7 592.1,390.7 593.4,391.5 594.6,392.3 594.6,416.3 593.4,415.9 592.1,415.4 590.8,414.7 589.5,413.9 588.3,413.2 587.0,412.5 585.7,411.9 584.4,411.1 583.2,409.9 581.9,408.7 580.6,407.5 579.4,406.5 578.1,405.4 576.8,404.6 575.5,404.4 574.3,404.1 573.0,403.9 571.7,403.7 570.4,403.5 569.2,403.2 567.9,402.7 566.6,402.2 565.3,401.8 564.1,401.5 562.8,401.1 561.5,401.2 560.2,401.4 559.0,401.6 557.7,401.9 556.4,402.3 555.1,402.6 553.9,402.5 552.6,402.4 551.3,402.3 550.0,402.3 548.8,402.3 547.5,402.3 546.2,402.7 544.9,403.0" fill="#1672bb"/>
<rect x="91.80" y="322.30" width="590.00" height="187.10" fill="none" stroke="#35343b" stroke-width="2.6"/>
<line x1="372.10" y1="303.70" x2="372.10" y2="328.20" stroke="#35343b" stroke-width="2.2" />
<line x1="381.20" y1="303.70" x2="381.20" y2="328.20" stroke="#35343b" stroke-width="2.2" />
<line x1="337.10" y1="310.50" x2="352.00" y2="310.50" stroke="#35343b" stroke-width="2.6" />
<polygon points="372.40,310.50 349.80,316.70 349.80,304.30" fill="#35343b"/>
<polygon points="380.80,310.50 403.40,304.30 403.40,316.70" fill="#35343b"/>
<line x1="401.50" y1="310.50" x2="416.90" y2="310.50" stroke="#35343b" stroke-width="2.6" />
<polygon points="170.00,484.90 192.60,478.70 192.60,491.10" fill="#35343b"/>
<line x1="198.70" y1="484.90" x2="208.60" y2="484.90" stroke="#35343b" stroke-width="2.6" />
<line x1="215.18" y1="484.90" x2="225.08" y2="484.90" stroke="#35343b" stroke-width="2.6" />
<line x1="231.66" y1="484.90" x2="241.56" y2="484.90" stroke="#35343b" stroke-width="2.6" />
<line x1="248.14" y1="484.90" x2="258.04" y2="484.90" stroke="#35343b" stroke-width="2.6" />
<line x1="264.62" y1="484.90" x2="274.52" y2="484.90" stroke="#35343b" stroke-width="2.6" />
<line x1="281.10" y1="484.90" x2="291.00" y2="484.90" stroke="#35343b" stroke-width="2.6" />
<line x1="297.58" y1="484.90" x2="301.80" y2="484.90" stroke="#35343b" stroke-width="2.6" />
<polygon points="606.70,484.90 584.10,491.10 584.10,478.70" fill="#35343b"/>
<line x1="478.40" y1="484.90" x2="488.30" y2="484.90" stroke="#35343b" stroke-width="2.6" />
<line x1="494.90" y1="484.90" x2="504.80" y2="484.90" stroke="#35343b" stroke-width="2.6" />
<line x1="511.40" y1="484.90" x2="521.30" y2="484.90" stroke="#35343b" stroke-width="2.6" />
<line x1="527.90" y1="484.90" x2="537.80" y2="484.90" stroke="#35343b" stroke-width="2.6" />
<line x1="544.40" y1="484.90" x2="554.30" y2="484.90" stroke="#35343b" stroke-width="2.6" />
<line x1="560.90" y1="484.90" x2="570.80" y2="484.90" stroke="#35343b" stroke-width="2.6" />
<line x1="577.40" y1="484.90" x2="587.00" y2="484.90" stroke="#35343b" stroke-width="2.6" />
<line x1="620.30" y1="480.30" x2="620.30" y2="480.30" stroke="#35343b" stroke-width="0" />
<line x1="620.30" y1="480.30" x2="556.77" y2="456.67" stroke="#35343b" stroke-width="2.6" />
<polygon points="538.96,450.05 562.31,452.12 557.98,463.74" fill="#35343b"/>
</g>
<g id="table">
<rect x="747.00" y="11.1" width="124.40" height="53.9" fill="#82469b"/>
<rect x="873.30" y="11.1" width="98.40" height="53.9" fill="#82469b"/>
<rect x="973.80" y="11.1" width="115.40" height="53.9" fill="#82469b"/>
<rect x="747.00" y="66.30" width="124.40" height="53.2" fill="#f2f2f4"/>
<rect x="873.30" y="66.30" width="98.40" height="53.2" fill="#f2f2f4"/>
<rect x="973.80" y="66.30" width="115.40" height="53.2" fill="#f2f2f4"/>
<rect x="747.00" y="121.10" width="124.40" height="53.2" fill="#e3e3e8"/>
<rect x="873.30" y="121.10" width="98.40" height="53.2" fill="#e3e3e8"/>
<rect x="973.80" y="121.10" width="115.40" height="53.2" fill="#e3e3e8"/>
<rect x="747.00" y="175.90" width="124.40" height="53.2" fill="#f2f2f4"/>
<rect x="873.30" y="175.90" width="98.40" height="53.2" fill="#f2f2f4"/>
<rect x="973.80" y="175.90" width="115.40" height="53.2" fill="#f2f2f4"/>
<rect x="747.00" y="230.70" width="124.40" height="53.2" fill="#e3e3e8"/>
<rect x="873.30" y="230.70" width="98.40" height="53.2" fill="#e3e3e8"/>
<rect x="973.80" y="230.70" width="115.40" height="53.2" fill="#e3e3e8"/>
<rect x="747.00" y="285.50" width="124.40" height="53.2" fill="#f2f2f4"/>
<rect x="873.30" y="285.50" width="98.40" height="53.2" fill="#f2f2f4"/>
<rect x="973.80" y="285.50" width="115.40" height="53.2" fill="#f2f2f4"/>
<rect x="747.00" y="340.30" width="124.40" height="53.2" fill="#e3e3e8"/>
<rect x="873.30" y="340.30" width="98.40" height="53.2" fill="#e3e3e8"/>
<rect x="973.80" y="340.30" width="115.40" height="53.2" fill="#e3e3e8"/>
<rect x="747.00" y="395.10" width="124.40" height="53.2" fill="#f2f2f4"/>
<rect x="873.30" y="395.10" width="98.40" height="53.2" fill="#f2f2f4"/>
<rect x="973.80" y="395.10" width="115.40" height="53.2" fill="#f2f2f4"/>
<rect x="747.00" y="449.90" width="124.40" height="53.2" fill="#e3e3e8"/>
<rect x="873.30" y="449.90" width="98.40" height="53.2" fill="#e3e3e8"/>
<rect x="973.80" y="449.90" width="115.40" height="53.2" fill="#e3e3e8"/>
<rect x="747.00" y="504.70" width="124.40" height="53.2" fill="#f2f2f4"/>
<rect x="873.30" y="504.70" width="98.40" height="53.2" fill="#f2f2f4"/>
<rect x="973.80" y="504.70" width="115.40" height="53.2" fill="#f2f2f4"/>
<rect x="747.00" y="559.50" width="124.40" height="53.2" fill="#e3e3e8"/>
<rect x="873.30" y="559.50" width="98.40" height="53.2" fill="#e3e3e8"/>
<rect x="973.80" y="559.50" width="115.40" height="53.2" fill="#e3e3e8"/>
<rect x="747.00" y="614.30" width="124.40" height="53.2" fill="#f2f2f4"/>
<rect x="873.30" y="614.30" width="98.40" height="53.2" fill="#f2f2f4"/>
<rect x="973.80" y="614.30" width="115.40" height="53.2" fill="#f2f2f4"/>
</g>
<g id="labels">
<text x="61.13" y="20.60" textLength="22.09" lengthAdjust="spacingAndGlyphs" font-size="18px" font-weight="bold" fill="#35343b" stroke="#35343b" stroke-width="0.25">1.5</text>
<text x="61.15" y="68.10" textLength="21.95" lengthAdjust="spacingAndGlyphs" font-size="18px" font-weight="bold" fill="#35343b" stroke="#35343b" stroke-width="0.25">1.0</text>
<text x="56.84" y="113.30" textLength="26.15" lengthAdjust="spacingAndGlyphs" font-size="18px" font-weight="bold" fill="#35343b">0.5</text>
<text x="72.96" y="160.40" textLength="10.98" lengthAdjust="spacingAndGlyphs" font-size="18px" font-weight="bold" fill="#35343b">0</text>
<text x="47.66" y="208.60" textLength="35.33" lengthAdjust="spacingAndGlyphs" font-size="18px" font-weight="bold" fill="#35343b">–0.5</text>
<text x="86.24" y="229.40" textLength="11.57" lengthAdjust="spacingAndGlyphs" font-size="18px" font-weight="bold" fill="#35343b">0</text>
<text x="152.89" y="229.40" textLength="8.43" lengthAdjust="spacingAndGlyphs" font-size="18px" font-weight="bold" fill="#35343b" stroke="#35343b" stroke-width="0.4">1</text>
<text x="217.90" y="229.40" textLength="11.33" lengthAdjust="spacingAndGlyphs" font-size="18px" font-weight="bold" fill="#35343b">2</text>
<text x="283.69" y="229.40" textLength="11.39" lengthAdjust="spacingAndGlyphs" font-size="18px" font-weight="bold" fill="#35343b">3</text>
<text x="350.14" y="229.40" textLength="10.17" lengthAdjust="spacingAndGlyphs" font-size="18px" font-weight="bold" fill="#35343b">4</text>
<text x="415.47" y="229.40" textLength="11.42" lengthAdjust="spacingAndGlyphs" font-size="18px" font-weight="bold" fill="#35343b">5</text>
<text x="481.67" y="229.40" textLength="11.41" lengthAdjust="spacingAndGlyphs" font-size="18px" font-weight="bold" fill="#35343b">6</text>
<text x="547.59" y="229.40" textLength="11.65" lengthAdjust="spacingAndGlyphs" font-size="18px" font-weight="bold" fill="#35343b">7</text>
<text x="613.70" y="229.40" textLength="11.24" lengthAdjust="spacingAndGlyphs" font-size="18px" font-weight="bold" fill="#35343b">8</text>
<text x="676.48" y="229.40" textLength="11.42" lengthAdjust="spacingAndGlyphs" font-size="18px" font-weight="bold" fill="#35343b">9</text>
<text x="347.08" y="268.40" textLength="82.84" lengthAdjust="spacingAndGlyphs" font-size="18px" font-weight="bold" fill="#35343b">Time (µs)</text>
<text transform="translate(23.60 152.60) rotate(-90)" x="0" y="0" textLength="88.59" lengthAdjust="spacingAndGlyphs" font-size="18px" font-weight="bold" fill="#35343b">Amplitude</text>
<text x="179.42" y="38.00" textLength="30.03" lengthAdjust="spacingAndGlyphs" font-size="18px" font-weight="bold" fill="#35343b">PRI</text>
<text x="238.70" y="88.00" textLength="28.53" lengthAdjust="spacingAndGlyphs" font-size="18px" font-weight="bold" fill="#35343b">PW</text>
<text x="631.49" y="190.80" textLength="34.94" lengthAdjust="spacingAndGlyphs" font-size="18px" font-weight="bold" fill="#35343b">NMt</text>
<text x="666.44" y="196.30" textLength="8.56" lengthAdjust="spacingAndGlyphs" font-size="12px" font-weight="bold" fill="#35343b">S</text>
<text x="73.07" y="329.00" textLength="11.36" lengthAdjust="spacingAndGlyphs" font-size="18px" font-weight="bold" fill="#35343b">0</text>
<text x="52.31" y="390.40" textLength="32.12" lengthAdjust="spacingAndGlyphs" font-size="18px" font-weight="bold" fill="#35343b">–50</text>
<text x="44.73" y="452.90" textLength="39.64" lengthAdjust="spacingAndGlyphs" font-size="18px" font-weight="bold" fill="#35343b" stroke="#35343b" stroke-width="0.25">–100</text>
<text x="44.73" y="515.00" textLength="39.64" lengthAdjust="spacingAndGlyphs" font-size="18px" font-weight="bold" fill="#35343b" stroke="#35343b" stroke-width="0.25">–150</text>
<text x="75.64" y="537.50" textLength="30.73" lengthAdjust="spacingAndGlyphs" font-size="18px" font-weight="bold" fill="#35343b">–40</text>
<text x="150.60" y="537.50" textLength="31.21" lengthAdjust="spacingAndGlyphs" font-size="18px" font-weight="bold" fill="#35343b">–30</text>
<text x="224.79" y="537.50" textLength="31.82" lengthAdjust="spacingAndGlyphs" font-size="18px" font-weight="bold" fill="#35343b">–20</text>
<text x="299.45" y="537.50" textLength="27.05" lengthAdjust="spacingAndGlyphs" font-size="18px" font-weight="bold" fill="#35343b" stroke="#35343b" stroke-width="0.25">–10</text>
<text x="381.46" y="537.50" textLength="10.86" lengthAdjust="spacingAndGlyphs" font-size="18px" font-weight="bold" fill="#35343b">0</text>
<text x="451.06" y="537.50" textLength="18.16" lengthAdjust="spacingAndGlyphs" font-size="18px" font-weight="bold" fill="#35343b" stroke="#35343b" stroke-width="0.25">10</text>
<text x="523.12" y="537.50" textLength="22.37" lengthAdjust="spacingAndGlyphs" font-size="18px" font-weight="bold" fill="#35343b">20</text>
<text x="596.77" y="537.50" textLength="22.76" lengthAdjust="spacingAndGlyphs" font-size="18px" font-weight="bold" fill="#35343b">30</text>
<text x="670.20" y="537.50" textLength="22.81" lengthAdjust="spacingAndGlyphs" font-size="18px" font-weight="bold" fill="#35343b">40</text>
<text x="313.72" y="576.50" textLength="147.73" lengthAdjust="spacingAndGlyphs" font-size="18px" font-weight="bold" fill="#35343b">Frequency (MHz)</text>
<text transform="translate(23.90 482.84) rotate(-90)" x="0" y="0" textLength="134.25" lengthAdjust="spacingAndGlyphs" font-size="18px" font-weight="bold" fill="#35343b">Magnitude (dB)</text>
<text x="420.81" y="316.20" textLength="34.53" lengthAdjust="spacingAndGlyphs" font-size="18px" font-weight="bold" fill="#35343b">PRF</text>
<text x="306.77" y="473.80" textLength="154.30" lengthAdjust="spacingAndGlyphs" font-size="18px" font-weight="bold" fill="#35343b">Main Lobe = 2/PW</text>
<text x="319.74" y="502.90" textLength="127.28" lengthAdjust="spacingAndGlyphs" font-size="18px" font-weight="bold" fill="#35343b">Decimated BW</text>
<text x="624.98" y="473.90" textLength="50.30" lengthAdjust="spacingAndGlyphs" font-size="18px" font-weight="bold" fill="#35343b">Noise</text>
<text x="626.71" y="497.20" textLength="45.92" lengthAdjust="spacingAndGlyphs" font-size="18px" font-weight="bold" fill="#35343b">Floor</text>
<text x="758.57" y="51.80" textLength="94.04" lengthAdjust="spacingAndGlyphs" font-size="26.5px" font-weight="normal" fill="#ffffff" stroke="#ffffff" stroke-width="0.35">Parameter</text>
<text x="897.63" y="51.80" textLength="48.49" lengthAdjust="spacingAndGlyphs" font-size="26.5px" font-weight="normal" fill="#ffffff" stroke="#ffffff" stroke-width="0.35">Value</text>
<text x="1004.34" y="51.80" textLength="46.83" lengthAdjust="spacingAndGlyphs" font-size="26.5px" font-weight="normal" fill="#ffffff" stroke="#ffffff" stroke-width="0.35">Units</text>
<text x="759.02" y="106.60" textLength="10.66" lengthAdjust="spacingAndGlyphs" font-size="26.5px" font-weight="normal" fill="#231f20" stroke="#231f20" stroke-width="0.35">F</text>
<text x="768.69" y="112.10" textLength="49.89" lengthAdjust="spacingAndGlyphs" font-size="20.6px" font-weight="normal" fill="#231f20" stroke="#231f20" stroke-width="0.35">SAMPLE</text>
<text x="897.09" y="106.60" textLength="45.89" lengthAdjust="spacingAndGlyphs" font-size="26.5px" font-weight="normal" fill="#231f20" stroke="#231f20" stroke-width="0.56">15.36</text>
<text x="1007.24" y="106.60" textLength="45.46" lengthAdjust="spacingAndGlyphs" font-size="26.5px" font-weight="normal" fill="#231f20" stroke="#231f20" stroke-width="0.35">GSPS</text>
<text x="758.89" y="161.40" textLength="13.08" lengthAdjust="spacingAndGlyphs" font-size="26.5px" font-weight="normal" fill="#231f20" stroke="#231f20" stroke-width="0.35">N</text>
<text x="905.95" y="161.40" textLength="28.49" lengthAdjust="spacingAndGlyphs" font-size="26.5px" font-weight="normal" fill="#231f20" stroke="#231f20" stroke-width="0.6">512</text>
<text x="758.93" y="216.20" textLength="14.24" lengthAdjust="spacingAndGlyphs" font-size="26.5px" font-weight="normal" fill="#231f20" stroke="#231f20" stroke-width="0.35">M</text>
<text x="903.39" y="216.20" textLength="33.80" lengthAdjust="spacingAndGlyphs" font-size="26.5px" font-weight="normal" fill="#231f20" stroke="#231f20" stroke-width="0.35">256</text>
<text x="758.89" y="271.00" textLength="45.65" lengthAdjust="spacingAndGlyphs" font-size="26.5px" font-weight="normal" fill="#231f20" stroke="#231f20" stroke-width="0.35">M × N</text>
<text x="889.01" y="271.00" textLength="61.80" lengthAdjust="spacingAndGlyphs" font-size="26.5px" font-weight="normal" fill="#231f20" stroke="#231f20" stroke-width="0.585714">131,072</text>
<text x="758.75" y="325.80" textLength="66.59" lengthAdjust="spacingAndGlyphs" font-size="26.5px" font-weight="normal" fill="#231f20" stroke="#231f20" stroke-width="0.35">FFT Bin</text>
<text x="908.12" y="325.80" textLength="23.82" lengthAdjust="spacingAndGlyphs" font-size="26.5px" font-weight="normal" fill="#231f20" stroke="#231f20" stroke-width="0.7">117</text>
<text x="1013.17" y="325.80" textLength="34.15" lengthAdjust="spacingAndGlyphs" font-size="26.5px" font-weight="normal" fill="#231f20" stroke="#231f20" stroke-width="0.35">kHz</text>
<text x="759.77" y="380.60" textLength="85.60" lengthAdjust="spacingAndGlyphs" font-size="26.5px" font-weight="normal" fill="#231f20" stroke="#231f20" stroke-width="0.35">Time (NMt</text>
<text x="844.63" y="384.60" textLength="6.40" lengthAdjust="spacingAndGlyphs" font-size="15px" font-weight="normal" fill="#231f20" stroke="#231f20" stroke-width="0.35">S</text>
<text x="851.10" y="380.60" textLength="7.52" lengthAdjust="spacingAndGlyphs" font-size="26.5px" font-weight="normal" fill="#231f20" stroke="#231f20" stroke-width="0.35">)</text>
<text x="906.90" y="380.60" textLength="27.08" lengthAdjust="spacingAndGlyphs" font-size="26.5px" font-weight="normal" fill="#231f20" stroke="#231f20" stroke-width="0.35">8.5</text>
<text x="1019.83" y="380.60" textLength="21.10" lengthAdjust="spacingAndGlyphs" font-size="26.5px" font-weight="normal" fill="#231f20" stroke="#231f20" stroke-width="0.35">µs</text>
<text x="758.91" y="435.40" textLength="27.17" lengthAdjust="spacingAndGlyphs" font-size="26.5px" font-weight="normal" fill="#231f20" stroke="#231f20" stroke-width="0.35">PW</text>
<text x="904.67" y="435.40" textLength="30.16" lengthAdjust="spacingAndGlyphs" font-size="26.5px" font-weight="normal" fill="#231f20" stroke="#231f20" stroke-width="0.6">100</text>
<text x="1019.06" y="435.40" textLength="21.67" lengthAdjust="spacingAndGlyphs" font-size="26.5px" font-weight="normal" fill="#231f20" stroke="#231f20" stroke-width="0.35">ns</text>
<text x="758.83" y="490.20" textLength="39.71" lengthAdjust="spacingAndGlyphs" font-size="26.5px" font-weight="normal" fill="#231f20" stroke="#231f20" stroke-width="0.35">Duty</text>
<text x="910.17" y="490.20" textLength="19.37" lengthAdjust="spacingAndGlyphs" font-size="26.5px" font-weight="normal" fill="#231f20" stroke="#231f20" stroke-width="0.65">10</text>
<text x="1020.22" y="490.20" textLength="19.65" lengthAdjust="spacingAndGlyphs" font-size="26.5px" font-weight="normal" fill="#231f20" stroke="#231f20" stroke-width="0.35">%</text>
<text x="758.95" y="545.00" textLength="33.23" lengthAdjust="spacingAndGlyphs" font-size="26.5px" font-weight="normal" fill="#231f20" stroke="#231f20" stroke-width="0.35">PRF</text>
<text x="915.38" y="545.00" textLength="8.44" lengthAdjust="spacingAndGlyphs" font-size="26.5px" font-weight="normal" fill="#231f20" stroke="#231f20" stroke-width="0.8">1</text>
<text x="1012.21" y="545.00" textLength="35.76" lengthAdjust="spacingAndGlyphs" font-size="26.5px" font-weight="normal" fill="#231f20" stroke="#231f20" stroke-width="0.35">MHz</text>
<text x="758.94" y="599.80" textLength="29.56" lengthAdjust="spacingAndGlyphs" font-size="26.5px" font-weight="normal" fill="#231f20" stroke="#231f20" stroke-width="0.35">PRI</text>
<text x="915.38" y="599.80" textLength="8.44" lengthAdjust="spacingAndGlyphs" font-size="26.5px" font-weight="normal" fill="#231f20" stroke="#231f20" stroke-width="0.8">1</text>
<text x="1019.83" y="599.80" textLength="21.10" lengthAdjust="spacingAndGlyphs" font-size="26.5px" font-weight="normal" fill="#231f20" stroke="#231f20" stroke-width="0.35">µs</text>
<text x="758.73" y="654.60" textLength="100.12" lengthAdjust="spacingAndGlyphs" font-size="26.5px" font-weight="normal" fill="#231f20" stroke="#231f20" stroke-width="0.35">Noise Floor</text>
<text x="906.38" y="654.60" textLength="29.97" lengthAdjust="spacingAndGlyphs" font-size="26.5px" font-weight="normal" fill="#231f20" stroke="#231f20" stroke-width="0.35">–97</text>
<text x="1008.12" y="654.60" textLength="44.22" lengthAdjust="spacingAndGlyphs" font-size="26.5px" font-weight="normal" fill="#231f20" stroke="#231f20" stroke-width="0.35">dBFS</text>
<rect x="893" y="642.5" width="196.5" height="31" fill="#ffffff" opacity="0.35"/>
<text x="909.19" y="663.30" textLength="165.53" lengthAdjust="spacingAndGlyphs" font-size="19px" font-weight="normal" fill="#7cc576" opacity="0.5">www.cntronics.com</text>
</g>
</svg>
</body>
</html>
